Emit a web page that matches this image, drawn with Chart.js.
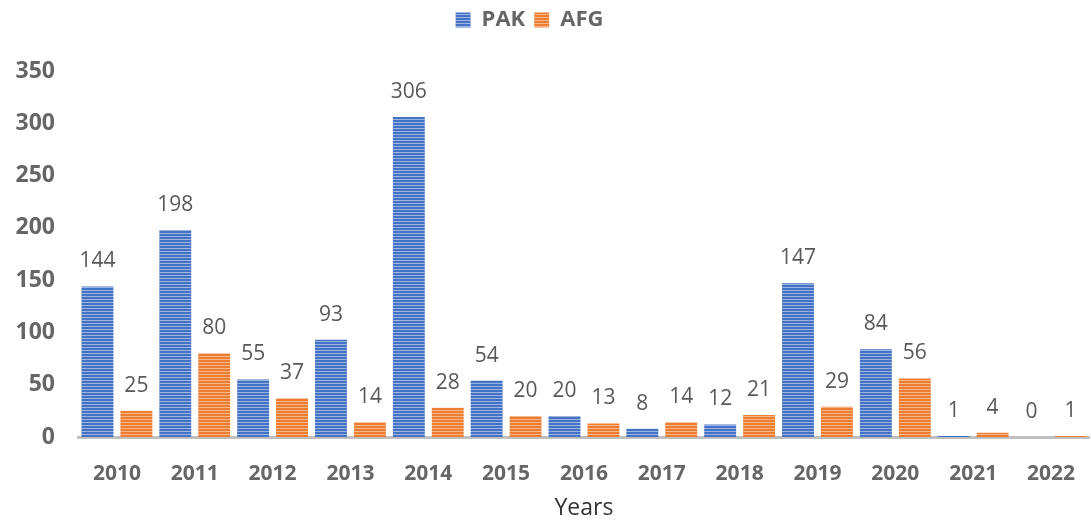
<!DOCTYPE html>
<html>
<head>
<meta charset="utf-8">
<script src="https://cdn.jsdelivr.net/npm/chart.js@4.4.1/dist/chart.umd.min.js"></script>
<style>
  html, body { margin: 0; padding: 0; background: #fff; }
  #wrap { width: 1091px; height: 520px; }
</style>
</head>
<body>
<div id="wrap"><canvas id="chart" width="1091" height="520"></canvas></div>
<script>
const years = ['2010', '2011', '2012', '2013', '2014', '2015', '2016', '2017', '2018', '2019', '2020', '2021', '2022'];
const pakValues = [144, 198, 55, 93, 306, 54, 20, 8, 12, 147, 84, 1, 0];
const afgValues = [25, 80, 37, 14, 28, 20, 13, 14, 21, 29, 56, 4, 1];
const yTicks = [0, 50, 100, 150, 200, 250, 300, 350];

// striped fill like the original bars
function stripes(base, light) {
    const c = document.createElement('canvas');
    c.width = 4; c.height = 3;
    const g = c.getContext('2d');
    g.fillStyle = base; g.fillRect(0, 0, 4, 3);
    g.fillStyle = light; g.fillRect(0, 2, 4, 1);
    return g.createPattern(c, 'repeat');
}

const valueLabels = {
    id: 'valueLabels',
    afterDatasetsDraw(chart) {
        const ctx = chart.ctx;
        ctx.save();
        ctx.font = '21px "Open Sans"';
        ctx.fillStyle = '#595959';
        ctx.textAlign = 'center';
        ctx.textBaseline = 'middle';
        chart.data.datasets.forEach((ds, i) => {
            chart.getDatasetMeta(i).data.forEach((bar, j) => {
                ctx.fillText(ds.data[j], bar.x, bar.y - 25);
            });
        });
        ctx.restore();
    }
};

// extra room under the legend, and nudge it a bit left
const legendSpacer = {
    id: 'legendSpacer',
    beforeInit(chart) {
        const fit = chart.legend.fit;
        chart.legend.fit = function () {
            fit.bind(chart.legend)();
            this.height += 30;
        };
    },
    afterLayout(chart) {
        chart.legend.left -= 16;
        chart.legend.right -= 16;
    }
};

const ctx = document.getElementById('chart').getContext('2d');
new Chart(ctx, {
    type: 'bar',
    data: {
        labels: years,
        datasets: [
            { label: 'PAK', data: pakValues, backgroundColor: stripes('#4472C4', '#9BB3E0'), categoryPercentage: 1.0, barPercentage: 0.82 },
            { label: 'AFG', data: afgValues, backgroundColor: stripes('#ED7D31', '#F6B68A'), categoryPercentage: 1.0, barPercentage: 0.82 }
        ]
    },
    options: {
        responsive: false,
        animation: false,
        layout: { padding: { left: 0, right: 0, top: 0, bottom: 0 } },
        plugins: {
            legend: {
                position: 'top',
                labels: {
                    font: { family: 'Open Sans', size: 22, weight: 'bold' },
                    color: '#666',
                    boxWidth: 15, boxHeight: 15,
                    padding: 9
                }
            },
            tooltip: { enabled: false }
        },
        scales: {
            x: {
                afterFit(axis) { axis.height = 83; },
                grid: { display: false },
                border: { display: true, color: '#BFBFBF', width: 3 },
                ticks: { font: { family: 'Open Sans', size: 21, weight: 'bold' }, color: '#666', padding: 16 },
                title: { display: true, text: 'Years', font: { family: 'Open Sans', size: 23, lineHeight: 1.0 }, color: '#333', padding: { top: 11, bottom: 0 } }
            },
            y: {
                min: 0, max: 350,
                afterBuildTicks(axis) { axis.ticks = yTicks.map(v => ({ value: v })); },
                afterFit(axis) { axis.width = 78; },
                grid: { display: false },
                border: { display: false },
                ticks: { font: { family: 'Open Sans', size: 23, weight: 'bold' }, color: '#666', padding: 15 }
            }
        }
    },
    plugins: [valueLabels, legendSpacer]
});
</script>
</body>
</html>
